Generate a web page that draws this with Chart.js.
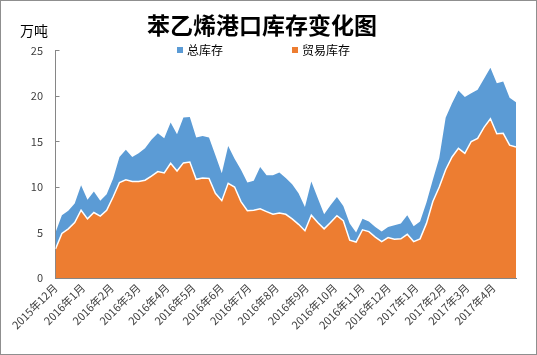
<!DOCTYPE html>
<html>
<head>
<meta charset="utf-8">
<script src="https://cdn.jsdelivr.net/npm/chart.js@4.4.1/dist/chart.umd.min.js"></script>
<style>
html, body { margin: 0; padding: 0; background: #ffffff; }
#wrap { width: 537px; height: 355px; }
</style>
</head>
<body>
<div id="wrap"><canvas id="c" width="537" height="355"></canvas></div>
<script>
// ---- data (weekly, Dec 2015 – Apr 2017), 万吨 ----
const seriesNames = ['总库存', '贸易库存'];

const totalStock = [
  5.0, 6.9, 7.4, 8.2, 10.2, 8.6, 9.5, 8.5, 9.2, 10.9,
  13.3, 14.1, 13.3, 13.7, 14.25, 15.2, 15.9, 15.35, 17.1, 15.8,
  17.65, 17.7, 15.45, 15.6, 15.45, 13.5, 11.5, 14.5, 13.1, 11.9,
  10.5, 10.7, 12.2, 11.3, 11.3, 11.6, 11.0, 10.3, 9.3, 7.8,
  10.6, 8.8, 7.0, 8.0, 8.9, 7.9, 6.0, 5.0, 6.5, 6.2,
  5.6, 5.1, 5.6, 5.8, 6.0, 6.9, 5.7, 6.2, 8.3, 10.8,
  13.2, 17.6, 19.2, 20.6, 19.9, 20.3, 20.7, 21.9, 23.1, 21.4,
  21.6, 19.8, 19.3
];

const tradeStock = [
  3.2, 4.9, 5.4, 6.1, 7.45, 6.5, 7.2, 6.8, 7.45, 8.9,
  10.5, 10.8, 10.6, 10.6, 10.75, 11.2, 11.7, 11.55, 12.6, 11.75,
  12.65, 12.75, 10.85, 11.0, 10.95, 9.3, 8.5, 10.4, 10.0, 8.4,
  7.4, 7.45, 7.6, 7.3, 7.0, 7.15, 7.0, 6.5, 5.9, 5.2,
  6.9, 6.1, 5.4, 6.1, 6.85, 6.3, 4.15, 3.95, 5.3, 5.1,
  4.5, 4.0, 4.45, 4.25, 4.3, 4.8, 4.0, 4.3, 6.0, 8.4,
  10.0, 11.9, 13.3, 14.25, 13.7, 15.0, 15.35, 16.55, 17.5, 15.85,
  15.9, 14.6, 14.4
];

// month tick labels and the week (data index) at which each month starts
const monthLabels = [
  '2015年12月', '2016年1月', '2016年2月', '2016年3月', '2016年4月', '2016年5月',
  '2016年6月', '2016年7月', '2016年8月', '2016年9月', '2016年10月', '2016年11月',
  '2016年12月', '2017年1月', '2017年2月', '2017年3月', '2017年4月'
];
const monthStartWeek = [0, 4.3, 8.8, 13.0, 17.5, 21.6, 26.0, 30.3, 34.6, 39.3, 43.7, 48.0, 52.1, 56.4, 60.7, 64.4, 68.5];

const yTicks = [0, 5, 10, 15, 20, 25];

const chartTitle = '苯乙烯港口库存变化图';
const unitLabel = '万吨';

// ---- styling ----
const BLUE = '#5B9BD5';
const ORANGE = '#ED7D31';
const AXIS = '#868686';
const TEXT = '#404040';
const CJK = '"Noto Sans CJK SC", "Noto Sans", sans-serif';

const toPoints = arr => arr.map((v, i) => ({ x: i, y: v }));

const decor = {
  id: 'decor',
  beforeDraw(chart) {
    const ctx = chart.ctx;
    ctx.save();
    ctx.fillStyle = '#ffffff';
    ctx.fillRect(0, 0, chart.width, chart.height);
    ctx.restore();
  },
  afterDraw(chart) {
    const ctx = chart.ctx;
    ctx.save();
    // outer frame
    ctx.strokeStyle = '#8f8f8f';
    ctx.lineWidth = 1;
    ctx.strokeRect(0.5, 0.5, chart.width - 1, chart.height - 1);
    // title
    ctx.fillStyle = '#000000';
    ctx.font = 'bold 23px ' + CJK;
    ctx.textAlign = 'center';
    ctx.textBaseline = 'middle';
    ctx.fillText(chartTitle, 262, 25);
    // unit
    ctx.font = '14px ' + CJK;
    ctx.textAlign = 'left';
    ctx.fillStyle = '#000000';
    ctx.fillText(unitLabel, 20, 31);
    // legend
    const ds = chart.data.datasets;
    const legendX = [177, 292];
    ctx.font = '12px ' + CJK;
    ds.forEach((d, i) => {
      ctx.fillStyle = d.backgroundColor;
      ctx.fillRect(legendX[i], 47, 6, 6);
      ctx.fillStyle = '#000000';
      ctx.fillText(d.label, legendX[i] + 10, 50);
    });
    ctx.restore();
  }
};

new Chart(document.getElementById('c'), {
  type: 'line',
  data: {
    datasets: [
      {
        label: seriesNames[0],
        data: toPoints(totalStock),
        backgroundColor: BLUE,
        borderColor: BLUE,
        borderWidth: 0,
        fill: 'origin',
        pointRadius: 0,
        tension: 0,
        order: 2
      },
      {
        label: seriesNames[1],
        data: toPoints(tradeStock),
        backgroundColor: ORANGE,
        borderColor: '#ffffff',
        borderWidth: 1.5,
        fill: 'origin',
        pointRadius: 0,
        tension: 0,
        order: 1
      }
    ]
  },
  options: {
    responsive: false,
    animation: false,
    devicePixelRatio: 1,
    layout: { padding: { left: 0, right: 21, top: 50.5, bottom: 0 } },
    plugins: {
      legend: { display: false },
      title: { display: false },
      tooltip: { enabled: false }
    },
    scales: {
      x: {
        type: 'linear',
        min: 0,
        max: totalStock.length - 1,
        z: 1,
        afterBuildTicks: s => { s.ticks = monthStartWeek.map(v => ({ value: v })); },
        afterFit: s => { s.height = 77; },
        ticks: {
          autoSkip: false,
          maxRotation: 45,
          minRotation: 45,
          padding: 3,
          color: TEXT,
          font: { family: CJK, size: 11 },
          callback: (v, i) => monthLabels[i]
        },
        grid: { display: false, drawTicks: false },
        border: { display: true, color: AXIS, width: 1 }
      },
      y: {
        min: 0,
        max: 25,
        z: 1,
        afterBuildTicks: s => { s.ticks = yTicks.map(v => ({ value: v })); },
        afterFit: s => { s.width = 55.5; },
        ticks: {
          padding: 16.5,
          color: TEXT,
          font: { family: CJK, size: 11 }
        },
        grid: { display: true, drawOnChartArea: false, drawTicks: true, tickLength: -4, color: AXIS },
        border: { display: true, color: AXIS, width: 1 }
      }
    }
  },
  plugins: [decor]
});
</script>
</body>
</html>
